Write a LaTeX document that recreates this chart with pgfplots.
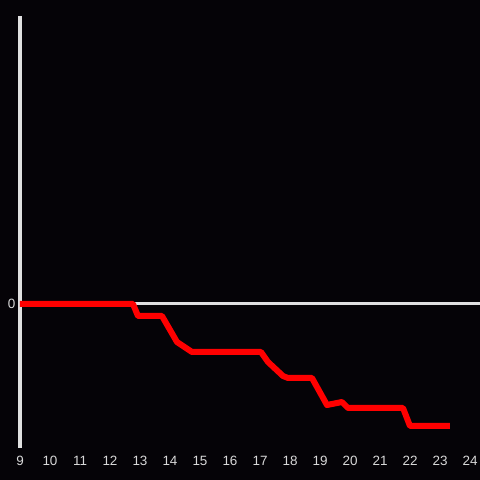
\documentclass[border=0pt]{standalone}
\usepackage{pgfplots}
\pgfplotsset{compat=1.18}
\usepackage{fontspec}
\setmainfont{Liberation Sans}
\definecolor{bg}{HTML}{050307}
\definecolor{axc}{HTML}{E0E0E0}
\definecolor{txt}{HTML}{D8D8D8}
\begin{document}
\begin{tikzpicture}
\fill[bg] (-20bp,-32bp) rectangle (460bp,448bp);
\begin{axis}[
  at={(0,0)}, anchor=south west,
  width=460bp, height=432bp, scale only axis,
  xmin=9, xmax=24.3333, ymin=-144, ymax=288,
  axis y line=left, axis x line=bottom,
  x axis line style={draw=none},
  y axis line style={axc, line width=3bp, -},
  xtick={9,...,24}, ytick={0},
  major tick length=0, tick style={draw=none},
  ymajorgrids, grid style={axc, line width=3bp},
  ticklabel style={txt, font=\fontsize{13.5}{16}\selectfont},
  xticklabel style={anchor=center, yshift=-13bp},
  yticklabel style={anchor=center, xshift=-8.3bp},
  /pgf/number format/assume math mode=true,
]
\addplot[red, line width=6bp, line join=round] coordinates {
(9,0) (12.767,0) (12.933,-12) (13.733,-12) (14.233,-38) (14.733,-48)
(17.033,-48) (17.267,-58) (17.767,-72) (17.933,-74) (18.733,-74)
(19.233,-101) (19.733,-98) (19.933,-104) (21.767,-104) (22.0,-122) (23.333,-122)
};
\end{axis}
\pgfresetboundingbox
\path (-20bp,-32bp) rectangle (460bp,448bp);
\end{tikzpicture}
\end{document}
